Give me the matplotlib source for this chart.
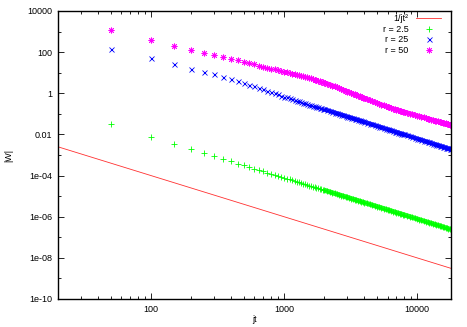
# -*- coding: utf-8 -*-

# |W| от jt в логарифмическом масштабе, три значения r и линия 1/jt^2

import numpy as np
import matplotlib
matplotlib.use('Agg')
import matplotlib.pyplot as plt
from matplotlib.ticker import FixedLocator, LogLocator, NullFormatter

# сетка jt: шаг 50 до 2000, дальше реже (точки всё равно сливаются в полосу)
jt = np.concatenate([np.arange(50, 2001, 50), np.arange(2100, 4001, 100),
                     np.arange(4200, 8001, 200), np.arange(8400, 18001, 400)])

# r = 2.5
w_r2_5 = [0.0312, 0.0078, 0.00347, 0.00195, 0.00125, 0.000867, 0.000637, 0.000488,
          0.000385, 0.000312, 0.000258, 0.000217, 0.000185, 0.000159, 0.000139,
          0.000122, 0.000108, 9.63e-5, 8.64e-5, 7.8e-5, 7.07e-5, 6.45e-5, 5.90e-5,
          5.42e-5, 4.99e-5, 4.62e-5, 4.28e-5, 3.98e-5, 3.71e-5, 3.47e-5, 3.25e-5,
          3.05e-5, 2.87e-5, 2.70e-5, 2.55e-5, 2.41e-5, 2.28e-5, 2.16e-5, 2.05e-5,
          1.95e-5,
          1.77e-5, 1.61e-5, 1.47e-5, 1.35e-5, 1.25e-5, 1.15e-5, 1.07e-5, 9.95e-6,
          9.27e-6, 8.67e-6, 8.12e-6, 7.62e-6, 7.16e-6, 6.75e-6, 6.37e-6, 6.02e-6,
          5.70e-6, 5.40e-6, 5.13e-6, 4.88e-6,
          4.42e-6, 4.03e-6, 3.69e-6, 3.39e-6, 3.12e-6, 2.88e-6, 2.67e-6, 2.49e-6,
          2.32e-6, 2.17e-6, 2.03e-6, 1.90e-6, 1.79e-6, 1.69e-6, 1.59e-6, 1.50e-6,
          1.42e-6, 1.35e-6, 1.28e-6, 1.22e-6,
          1.11e-6, 1.01e-6, 9.2e-7, 8.5e-7, 7.8e-7, 7.2e-7, 6.7e-7, 6.2e-7, 5.8e-7,
          5.4e-7, 5.1e-7, 4.8e-7, 4.5e-7, 4.2e-7, 4.0e-7, 3.8e-7, 3.6e-7, 3.4e-7,
          3.2e-7, 3.0e-7, 2.9e-7, 2.8e-7, 2.6e-7, 2.5e-7, 2.4e-7]

# r = 25
w_r25 = [145, 50, 26, 16, 11.2, 8.3, 6.5, 4.9, 4.0, 3.2, 2.62, 2.16, 1.80, 1.53,
         1.31, 1.14, 0.995, 0.875, 0.774, 0.69, 0.625, 0.568, 0.519, 0.476, 0.438,
         0.404, 0.374, 0.347, 0.323, 0.302, 0.282, 0.265, 0.249, 0.234, 0.220,
         0.208, 0.197, 0.186, 0.177, 0.168,
         0.152, 0.138, 0.126, 0.116, 0.1065, 0.0983, 0.0911, 0.0846, 0.0787,
         0.0735, 0.0687, 0.0644, 0.0605, 0.0569, 0.0537, 0.0507, 0.0479, 0.0454,
         0.0431, 0.0408,
         0.0370, 0.0336, 0.0307, 0.0282, 0.0259, 0.0239, 0.0221, 0.0205, 0.0191,
         0.0178, 0.0167, 0.0157, 0.0147, 0.0138, 0.0130, 0.0123, 0.0116, 0.0110,
         0.0105, 0.00993,
         0.00899, 0.00818, 0.00747, 0.00685, 0.00629, 0.00581, 0.00538, 0.00499,
         0.00465, 0.00434, 0.00406, 0.00380, 0.00357, 0.00336, 0.00316, 0.00299,
         0.00283, 0.00268, 0.00254, 0.00241, 0.00229, 0.00218, 0.00208, 0.00199,
         0.0019]

# r = 50
w_r50 = [1200, 380, 205, 125, 91, 72, 59, 48, 40, 34, 29.2, 25.4, 22.3, 19.8,
         17.7, 16.0, 14.6, 13.3, 12.2, 11.2, 10.4, 9.64, 8.95, 8.39, 7.85, 7.38,
         6.95, 6.55, 6.19, 5.86, 5.57, 5.26, 4.94, 4.63, 4.35, 4.10, 3.86, 3.64,
         3.45, 3.27,
         2.95, 2.67, 2.39, 2.15, 1.93, 1.74, 1.58, 1.44, 1.32, 1.20, 1.10, 1.02,
         0.938, 0.873, 0.811, 0.755, 0.705, 0.656, 0.615, 0.577,
         0.510, 0.455, 0.407, 0.370, 0.336, 0.306, 0.281, 0.258, 0.238, 0.219,
         0.204, 0.190, 0.179, 0.169, 0.160, 0.152, 0.144, 0.137, 0.130, 0.124,
         0.113, 0.104, 0.0951, 0.0879, 0.0813, 0.0759, 0.0711, 0.0667, 0.0627,
         0.0590, 0.0557, 0.0526, 0.0497, 0.0471, 0.0449, 0.0428, 0.0407, 0.0388,
         0.0371, 0.0355, 0.0340, 0.0326, 0.0312, 0.0299, 0.0288]

# линия 1/jt^2 (концы)
line_jt = [20, 18000]
line_w = [2.5e-3, 3.09e-9]

xtick_vals = [100, 1000, 10000]
xtick_labels = ['100', '1000', '10000']
ytick_vals = [1e-10, 1e-8, 1e-6, 1e-4, 1e-2, 1, 100, 10000]
ytick_labels = ['1e-10', '1e-08', '1e-06', '1e-04', '0.01', '1', '100', '10000']


def plot_series(ax, w, marker, ms, color, label, band_lw):
    w = np.asarray(w)
    ax.plot(jt, w, ls='none', marker=marker, ms=ms, mew=0.6, color=color, label=label)
    # там, где у исходника шаг 50 даёт сплошную полосу, дорисовываем её линией
    dense = jt >= 2000
    ax.plot(jt[dense], w[dense], ls='-', lw=band_lw, color=color,
            solid_capstyle='butt', alpha=0.9)


plt.rcParams['font.family'] = ['Liberation Sans', 'DejaVu Sans']
plt.rcParams['font.size'] = 6.5

fig = plt.figure(figsize=(4.67, 3.27), dpi=100)
ax = fig.add_axes([58 / 467, 28 / 327, 393 / 467, 288 / 327])

ax.plot(line_jt, line_w, color='#ff3030', lw=0.6, label='1/jt²')
plot_series(ax, w_r2_5, '+', 4.5, '#00ff00', 'r = 2.5', 3.6)
plot_series(ax, w_r25, 'x', 3.6, '#0000ff', 'r = 25', 3.2)
plot_series(ax, w_r50, (8, 2, 0), 4.2, '#ff00ff', 'r = 50', 3.4)

ax.set_xscale('log')
ax.set_yscale('log')
ax.set_xlim(20, 18000)
ax.set_ylim(1e-10, 1e4)

ax.xaxis.set_major_locator(FixedLocator(xtick_vals))
ax.set_xticklabels(xtick_labels)
ax.xaxis.set_minor_locator(LogLocator(base=10, subs=np.arange(2, 10), numticks=20))
ax.xaxis.set_minor_formatter(NullFormatter())
ax.yaxis.set_major_locator(FixedLocator(ytick_vals))
ax.set_yticklabels(ytick_labels)
ax.yaxis.set_minor_locator(LogLocator(base=100, subs=(10,), numticks=20))
ax.yaxis.set_minor_formatter(NullFormatter())

ax.tick_params(which='both', direction='in', top=True, right=True, width=0.6)
ax.tick_params(which='major', length=4, pad=4)
ax.tick_params(which='minor', length=2)
for s in ax.spines.values():
    s.set_linewidth(1.0)

ax.set_xlabel('jt', labelpad=1)
ax.set_ylabel('|W|', labelpad=10)

ax.legend(loc='upper right', bbox_to_anchor=(0.975, 0.99), frameon=False,
          markerfirst=False, handlelength=2.8, handletextpad=0.8,
          labelspacing=0.2, borderpad=0, borderaxespad=0)

fig.savefig('out.png', dpi=100)
plt.close(fig)
